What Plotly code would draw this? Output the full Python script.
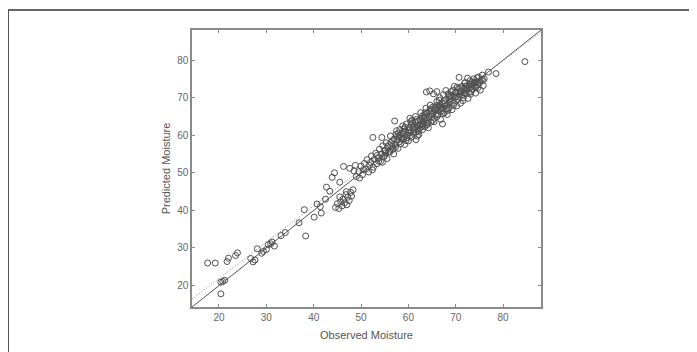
import plotly.graph_objects as go

observed = [17.6,19.2,20.4,20.8,21.2,20.4,21.7,22.0,23.9,23.5,26.7,27.2,27.6,28.1,29.4,30.0,29.0,30.4,30.9,31.7,31.2,33.1,34.0,36.9,38.0,38.3,40.1,40.7,41.4,41.6,42.7,43.4,43.9,44.4,42.5,
            44.6,45.0,45.3,45.7,46.0,46.2,46.5,46.8,47.0,47.2,47.5,47.8,48.0,48.3,45.5,46.9,
            46.3,47.6,45.5,48.5,49.0,48.8,49.5,50.0,50.3,50.7,51.0,51.3,51.6,52.0,52.2,52.5,54.4,52.6,52.8,53.1,53.3,53.6,53.9,54.1,54.3,54.6,54.8,55.1,55.3,55.5,55.8,56.0,56.2,56.4,56.7,56.9,57.1,57.2,57.4,57.6,57.8,58.0,58.2,58.4,58.6,58.8,59.0,59.2,59.4,59.6,59.8,60.0,60.2,60.3,60.5,60.7,60.9,61.1,61.3,61.5,61.6,61.8,62.0,62.2,62.4,62.6,62.8,63.0,63.2,63.4,63.5,63.7,63.8,64.0,64.2,64.4,64.5,64.6,64.8,65.0,65.2,65.3,65.5,65.7,66.0,66.0,66.2,66.4,66.6,66.8,67.0,67.2,67.2,67.4,67.6,67.8,68.0,68.2,68.4,68.6,68.8,69.0,69.2,69.4,69.6,69.8,70.0,70.2,70.4,70.6,70.7,70.8,71.0,71.2,71.4,71.6,71.8,72.0,72.2,72.4,72.6,72.8,73.0,73.2,73.4,73.6,73.8,74.0,74.2,74.4,74.6,74.8,75.0,75.2,75.4,75.6,75.8,76.0,76.9,78.5,84.6,
            55.0,56.5,57.0,58.1,58.9,59.5,60.1,60.6,61.2,61.9,62.3,62.9,63.3,63.9,64.3,64.9,65.4,65.9,66.3,66.9,67.5,68.1,68.7,69.3,69.9,70.5,71.1,71.7,72.3,72.9,73.5,74.1,74.7,62.7,61.4,60.4,59.3,58.5,57.3,56.1,54.9,53.7,55.6,57.9,60.8,63.6,66.5,69.7,72.5,67.9,
            56.3,57.5,58.3,59.1,59.7,60.5,61.0,61.7,62.1,62.5,63.1,63.6,64.1,64.7,65.1,65.6,66.1,66.7,67.1,67.7,68.3,68.9,69.5,70.1,70.9,71.5,72.1,72.7,73.3,73.9,74.5,75.1,75.7,61.6,63.0,64.6,65.8,67.3,68.5,70.3,71.9,73.1,58.7,57.7,56.8,55.2,54.5,53.4,52.4,51.8,50.5,49.7,60.0,62.0,64.0,66.2,68.0,69.0,71.3,74.3]
predicted = [26.0,26.0,20.9,21.1,21.4,17.8,26.4,27.3,28.7,28.0,27.2,26.3,26.8,29.8,29.1,29.6,28.6,30.9,31.1,30.5,31.6,33.3,34.1,36.7,40.2,33.2,38.2,41.7,41.0,39.3,46.2,45.1,48.8,50.0,43.0,
             40.8,41.8,40.5,42.3,41.2,43.0,42.0,44.2,41.5,43.5,42.6,44.8,43.8,45.5,43.6,45.0,
             51.7,51.2,47.5,50.5,49.0,52.0,50.3,51.8,49.5,52.5,51.0,53.5,50.2,52.8,54.5,59.4,59.4,51.5,53.6,55.2,52.4,54.0,56.3,53.0,55.0,57.2,54.3,56.0,58.0,53.8,55.5,57.5,59.8,56.2,58.6,55.0,63.8,57.5,60.2,58.8,56.5,59.5,61.5,57.8,60.5,62.5,59.0,57.5,61.0,63.0,60.0,58.5,62.0,64.5,61.0,59.5,63.2,60.5,62.4,65.0,58.8,61.8,63.8,60.2,62.8,66.0,64.5,61.5,63.5,65.5,62.3,67.2,71.5,64.0,62.0,66.3,71.8,68.0,63.5,65.5,67.5,71.0,64.5,66.8,69.0,71.6,65.5,67.8,70.0,64.2,66.5,63.0,68.5,70.8,66.0,67.8,69.5,65.5,71.0,67.3,68.8,70.5,66.8,72.0,68.5,70.0,71.5,67.8,69.5,72.5,75.4,70.8,68.5,71.8,73.0,70.0,72.3,74.0,71.0,73.2,69.8,72.5,74.5,71.5,73.5,72.2,75.0,73.0,71.2,74.2,72.5,75.5,73.8,72.0,74.8,76.0,73.2,75.0,76.8,76.4,79.6,
             54.6,57.0,59.0,58.3,60.8,58.6,60.7,62.7,61.5,59.8,61.6,63.0,64.6,62.8,65.1,66.5,63.6,67.9,66.6,67.4,69.2,68.0,70.2,69.3,71.2,70.2,72.6,71.2,72.0,73.6,74.2,74.0,73.4,62.2,63.4,59.9,62.2,59.2,56.9,55.6,55.9,53.1,57.0,60.6,64.0,66.0,69.3,73.0,75.2,71.9,
             58.1,61.2,60.0,61.7,59.3,63.6,62.1,64.2,61.0,64.0,62.6,64.9,63.2,65.8,64.0,67.2,65.0,68.2,67.0,68.6,66.6,69.8,67.9,70.4,71.6,69.2,73.0,71.4,72.9,73.9,75.3,74.4,74.6,60.8,65.2,67.0,65.6,65.8,70.6,72.8,73.9,70.9,58.9,59.7,56.3,55.3,52.8,54.6,50.8,52.0,50.8,48.6,61.4,62.4,65.8,67.4,67.0,71.6,70.6,72.9]

axis_range = [14.3, 88.0]
fit_slope = 0.965
fit_intercept = 2.6
x_tick_values = [20, 30, 40, 50, 60, 70, 80]
y_tick_values = [20, 30, 40, 50, 60, 70, 80]

fig = go.Figure()
fig.add_trace(go.Scatter(x=axis_range, y=axis_range, mode="lines",
                         line=dict(color="#555555", width=1), hoverinfo="skip"))
fig.add_trace(go.Scatter(x=axis_range, y=[fit_slope * v + fit_intercept for v in axis_range],
                         mode="lines", line=dict(color="#888888", width=1, dash="1px,2px"),
                         hoverinfo="skip"))
fig.add_trace(go.Scatter(x=observed, y=predicted, mode="markers",
                         marker=dict(symbol="circle-open", size=6, color="#505050",
                                     line=dict(width=1, color="#505050"))))

axis_common = dict(showgrid=False, zeroline=False, showline=True, mirror="ticks",
                   linecolor="#8a8a8a", linewidth=1.5, ticks="inside", ticklen=3,
                   tickcolor="#8a8a8a", tickfont=dict(family="Liberation Sans, Arial", size=10, color="#666666"),
                   range=axis_range)
fig.update_xaxes(tickvals=x_tick_values,
                 title=dict(text="Observed Moisture", font=dict(family="Liberation Sans, Arial", size=11, color="#555555"), standoff=10),
                 **axis_common)
fig.update_yaxes(tickvals=y_tick_values,
                 title=dict(text="Predicted Moisture", font=dict(family="Liberation Sans, Arial", size=11, color="#555555"), standoff=4),
                 **axis_common)

fig.update_layout(width=689, height=344, showlegend=False,
                  paper_bgcolor="white", plot_bgcolor="white",
                  margin=dict(l=184, r=156, t=22, b=45),
                  shapes=[
                      dict(type="line", xref="paper", yref="paper", x0=-0.527, x1=-0.527, y0=1.072, y1=-0.3,
                           line=dict(color="#333333", width=1.5)),
                      dict(type="line", xref="paper", yref="paper", x0=-0.527, x1=1.6, y0=1.072, y1=1.072,
                           line=dict(color="#333333", width=1.5)),
                  ])

fig.write_html("out.html")
